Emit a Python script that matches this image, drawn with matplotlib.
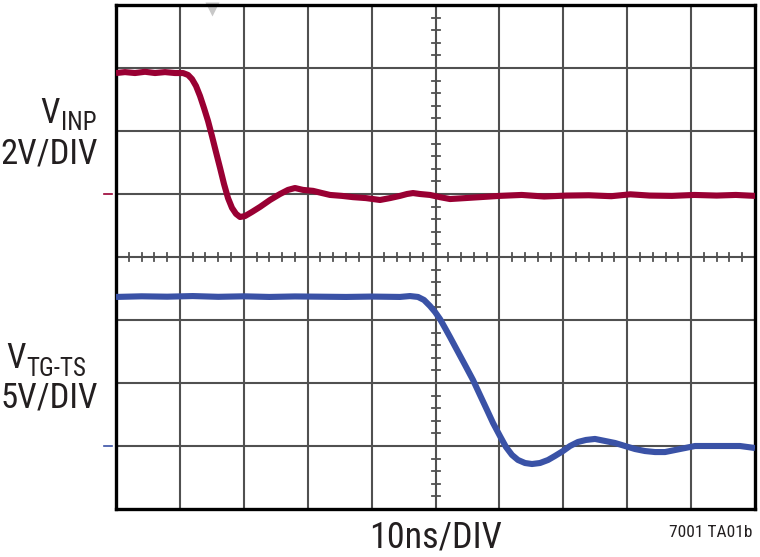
import matplotlib
matplotlib.use("Agg")
import matplotlib.pyplot as plt
from matplotlib import font_manager

# ---------------- data ----------------
# time in ns (10 ns/DIV), voltages in V
t_inp = [0, 1.41, 2.97, 4.54, 6.10, 7.67, 9.23, 10.49, 11.27, 11.89, 12.52, 13.15, 13.77,
         14.40, 15.02, 15.65, 16.28, 16.90, 17.53, 18.15, 18.78, 19.41, 20.19, 21.28,
         22.54, 24.10, 25.67, 26.92, 28.01, 29.26, 30.83, 32.24, 33.49, 35.37, 37.09,
         39.12, 41.31, 42.88, 44.44, 45.54, 46.48, 47.57, 49.14, 50.70, 52.27, 54.62,
         56.96, 60.0, 63.5, 67.0, 70.5, 74.0, 77.5, 80.5, 83.5, 87.0, 90.5, 94.0, 97.0, 100]
v_inp = [3.84, 3.87, 3.84, 3.88, 3.84, 3.87, 3.84, 3.84, 3.78, 3.65, 3.43, 3.11, 2.73,
         2.32, 1.84, 1.33, 0.83, 0.32, -0.13, -0.44, -0.63, -0.73, -0.70, -0.57,
         -0.41, -0.19, 0.0, 0.13, 0.19, 0.13, 0.10, 0.03, -0.03, -0.06, -0.10,
         -0.13, -0.19, -0.13, -0.06, 0.0, 0.03, 0.0, -0.03, -0.10, -0.16, -0.13,
         -0.10, -0.06, -0.03, -0.08, -0.05, -0.04, -0.07, -0.01, -0.05, -0.06, -0.03, -0.05, -0.03, -0.06]

t_tg = [0, 4.0, 8.0, 12.0, 16.0, 20.0, 24.0, 28.0, 32.0, 36.0, 40.0, 44.44, 46.01, 47.26,
        48.20, 49.14, 49.92, 50.70, 51.49, 52.27, 53.36, 54.62, 55.87, 56.96, 58.06,
        59.00, 60.09, 61.03, 61.97, 62.91, 64.01, 65.10, 66.35, 67.61, 68.70, 69.95,
        71.05, 72.30, 73.55, 74.96, 76.53, 78.09, 79.66, 81.22, 82.79, 84.35, 85.92,
        87.48, 89.05, 90.61, 92.96, 95.31, 97.65, 100]
v_tg = [11.83, 11.88, 11.85, 11.90, 11.84, 11.88, 11.83, 11.87, 11.85, 11.83, 11.86, 11.83, 11.90, 11.83,
        11.59, 11.11, 10.64, 10.08, 9.37, 8.65, 7.62, 6.43, 5.24, 4.05, 2.86,
        1.83, 0.79, -0.08, -0.71, -1.11, -1.35, -1.43, -1.35, -1.11, -0.79, -0.40,
        0.0, 0.32, 0.48, 0.56, 0.40, 0.24, 0.0, -0.24, -0.40, -0.48, -0.48,
        -0.32, -0.16, 0.0, 0.0, 0.0, 0.0, -0.16]

inp_scale, inp_ref = 2.0, 5.0   # V/DIV, reference division
tg_scale, tg_ref = 5.0, 1.0
ns_per_div = 10.0

# ---------------- font ----------------
names = {f.name for f in font_manager.fontManager.ttflist}
if 'Roboto Condensed' in names:
    fam, k = 'Roboto Condensed', 1.0
else:
    fam, k = 'Liberation Sans', 0.84
plt.rcParams['font.family'] = [fam, 'DejaVu Sans']

W, H = 760, 557
fig = plt.figure(figsize=(W / 100, H / 100), dpi=100)
L, R, T, B = 116, 755, 5, 509
ax = fig.add_axes([L / W, 1 - B / H, (R - L) / W, (B - T) / H])
ax.set_xlim(0, 10)
ax.set_ylim(0, 8)
ax.set_xticks([])
ax.set_yticks([])
for s in ax.spines.values():
    s.set_linewidth(2.4)
    s.set_color('black')

grid_c = '#505050'
for i in range(1, 10):
    ax.axvline(i, color=grid_c, lw=1.5, zorder=1)
for j in range(1, 8):
    ax.axhline(j, color=grid_c, lw=1.5, zorder=1)

# minor ticks on centre lines
tl = 4 / 63.0
for i in range(1, 50):
    x = i * 0.2
    ax.plot([x, x], [4 - tl, 4 + tl], color=grid_c, lw=1.3, zorder=1)
for j in range(1, 40):
    y = j * 0.2
    ax.plot([5 - tl * 63 / 63.9, 5 + tl * 63 / 63.9], [y, y], color=grid_c, lw=1.3, zorder=1)

# trigger marker
ax.plot([1.5], [7.93], marker='v', markersize=10, color='#c8c8c8', mec='none', zorder=2, clip_on=False)

red = '#990033'
blue = '#3a52a6'
ax.plot([t / ns_per_div for t in t_inp], [inp_ref + v / inp_scale for v in v_inp],
        color=red, lw=4.4, solid_joinstyle='round', solid_capstyle='butt', zorder=3)
ax.plot([t / ns_per_div for t in t_tg], [tg_ref + v / tg_scale for v in v_tg],
        color=blue, lw=4.4, solid_joinstyle='round', solid_capstyle='butt', zorder=3)

# reference level markers
ax.plot([-0.18, -0.06], [inp_ref, inp_ref], color=red, lw=1.2, clip_on=False)
ax.plot([-0.18, -0.06], [tg_ref, tg_ref], color=blue, lw=1.2, clip_on=False)

def ftext(x, y, s, size, ha='left'):
    fig.text(x / W, 1 - y / H, s, fontsize=size * k, ha=ha, va='baseline', color='#231f20')

ftext(40, 123, 'V', 25)
ftext(61, 130, 'INP', 18)
ftext(98, 163, '2V/DIV', 25, ha='right')
ftext(6, 368, 'V', 25)
ftext(26, 376, 'TG-TS', 18)
ftext(98, 408, '5V/DIV', 25, ha='right')
ftext(436, 548, '10ns/DIV', 26, ha='center')
ftext(752, 537, '7001 TA01b', 12.5, ha='right')

fig.savefig('out.png', dpi=100)
